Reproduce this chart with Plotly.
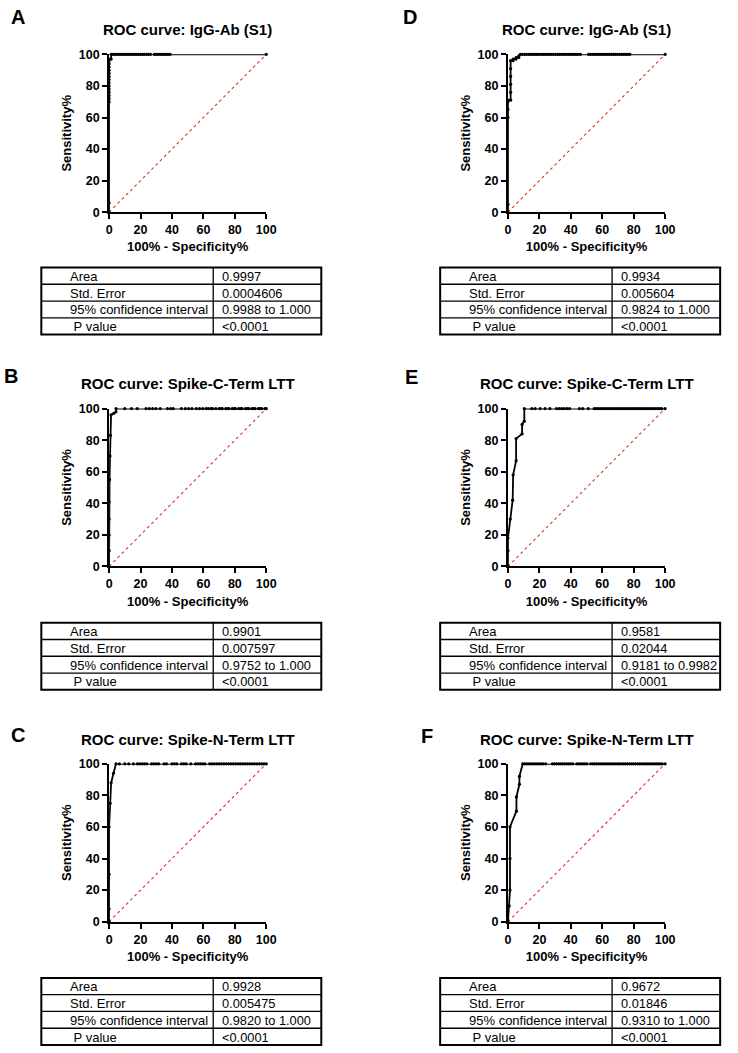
import plotly.graph_objects as go

W, H = 738, 1053
FONT = "Liberation Sans, Arial, sans-serif"

panel_letters = ["A", "B", "C", "D", "E", "F"]
panel_titles = [
    "ROC curve: IgG-Ab (S1)",
    "ROC curve: Spike-C-Term LTT",
    "ROC curve: Spike-N-Term LTT",
    "ROC curve: IgG-Ab (S1)",
    "ROC curve: Spike-C-Term LTT",
    "ROC curve: Spike-N-Term LTT",
]
x_title = "100% - Specificity%"
y_title = "Sensitivity%"
tick_values = [0, 20, 40, 60, 80, 100]
tick_labels = ["0", "20", "40", "60", "80", "100"]

# ---- ROC curve points (100% - specificity, sensitivity) ----
A_fpr = [0, 0, 0, 0, 0, 0, 0, 0, 0, 0, 0, 0, 0, 0, 0, 0, 0,
         1.3, 1.3, 2.5, 3.8, 5.0, 6.3, 7.5, 8.8, 10.0, 11.3, 12.5, 13.8, 15.0, 16.3, 17.5, 18.8,
         20.0, 21.3, 22.5, 23.8, 25.0, 26.3, 28.8, 30.0, 31.3, 32.5, 33.8, 35.0, 36.3, 37.5, 38.8, 100]
A_tpr = [0, 6, 70, 72, 74, 76, 78, 80, 82, 84, 86, 88, 90, 92, 94, 96, 97,
         97, 100, 100, 100, 100, 100, 100, 100, 100, 100, 100, 100, 100, 100, 100, 100,
         100, 100, 100, 100, 100, 100, 100, 100, 100, 100, 100, 100, 100, 100, 100, 100]

B_fpr = [0, 0, 0, 0, 0, 0.3, 0.6, 0.9, 1.25, 3.0, 4.4,
         4.4, 10.0, 14.2, 17.9, 23.5, 25.6, 27.7, 29.8, 32.5, 37.1, 39.2, 40.8, 46.0, 48.5, 50.6,
         52.7, 55.4, 57.5, 59.6, 61.7, 63.1, 64.8, 65.8, 67.9, 70.0, 71.3, 72.0, 74.2, 75.5, 76.2,
         78.3, 79.5, 80.4, 82.5, 83.8, 84.6, 86.7, 88.0, 88.8, 90.8, 92.0, 92.9, 95.0, 96.2, 97.1, 99.2, 100]
B_tpr = [0, 10, 20, 30, 41, 55, 70, 83, 96, 97, 98,
         100, 100, 100, 100, 100, 100, 100, 100, 100, 100, 100, 100, 100, 100, 100,
         100, 100, 100, 100, 100, 100, 100, 100, 100, 100, 100, 100, 100, 100, 100,
         100, 100, 100, 100, 100, 100, 100, 100, 100, 100, 100, 100, 100, 100, 100, 100, 100]

C_fpr = [0, 0, 0, 0, 0.7, 1.3, 2.8, 4.4,
         6.5, 10.0, 12.5, 15.5, 18.0, 19.5, 21.0, 22.5, 24.0, 27.0, 28.5, 30.0, 31.5, 35.0, 36.5,
         40.0, 41.5, 43.0, 46.0, 47.5, 49.0, 52.0, 55.0, 56.5, 58.0, 59.5, 61.0, 64.0, 65.5, 67.0,
         68.5, 70.0, 71.5, 73.0, 74.5, 76.0, 77.5, 79.0, 80.5, 82.0, 83.5, 85.0, 86.5, 88.0, 89.5,
         91.0, 92.5, 94.0, 95.5, 97.0, 98.5, 100]
C_tpr = [0, 8, 30, 60, 75, 88, 94, 100,
         100, 100, 100, 100, 100, 100, 100, 100, 100, 100, 100, 100, 100, 100, 100,
         100, 100, 100, 100, 100, 100, 100, 100, 100, 100, 100, 100, 100, 100, 100,
         100, 100, 100, 100, 100, 100, 100, 100, 100, 100, 100, 100, 100, 100, 100,
         100, 100, 100, 100, 100, 100, 100]

D_fpr = [0, 0, 0, 0, 0, 0, 1.7, 1.7, 1.7, 1.7, 1.7, 1.7, 3.3, 3.3, 5.2, 5.2, 6.9, 6.9,
         7.9, 9.2, 10.5, 11.8, 13.2, 14.5, 15.8, 17.1, 18.4, 19.7, 21.1, 22.4, 23.7, 25.0, 26.3,
         27.6, 28.9, 30.3, 31.6, 32.9, 34.2, 35.5, 36.8, 38.2, 39.5, 40.8, 42.1, 43.4, 44.7, 46.1,
         51.3, 52.6, 53.9, 55.3, 56.6, 57.9, 59.2, 60.5, 61.8, 63.2, 64.5, 65.8, 67.1, 68.4, 69.7,
         71.1, 72.4, 73.7, 75.0, 76.3, 77.6, 100]
D_tpr = [0, 5, 60, 65, 70, 71, 71, 76, 81, 86, 91, 96, 96, 97, 97, 98, 98, 99,
         100, 100, 100, 100, 100, 100, 100, 100, 100, 100, 100, 100, 100, 100, 100,
         100, 100, 100, 100, 100, 100, 100, 100, 100, 100, 100, 100, 100, 100, 100,
         100, 100, 100, 100, 100, 100, 100, 100, 100, 100, 100, 100, 100, 100, 100,
         100, 100, 100, 100, 100, 100, 100]

E_fpr = [0, 0, 0, 1.5, 3.0, 3.3, 5.2, 5.2, 9.0, 9.0, 10.4,
         10.4, 15.2, 17.3, 20.5, 23.6, 26.7, 30.9, 32.6, 34.2, 35.9, 37.6, 39.2, 45.5, 47.6, 51.1,
         54.9, 56.2, 57.5, 58.8, 60.1, 61.4, 62.7, 64.0, 65.3, 66.6, 67.9, 69.2, 70.5, 71.8, 73.1,
         74.4, 75.7, 77.0, 78.3, 79.6, 80.9, 82.2, 83.5, 84.8, 86.1, 87.4, 88.7, 90.0, 91.3, 92.6,
         93.9, 95.2, 96.5, 97.8, 100]
E_tpr = [0, 10, 18, 30, 42, 58, 67, 81, 84, 90, 92,
         100, 100, 100, 100, 100, 100, 100, 100, 100, 100, 100, 100, 100, 100, 100,
         100, 100, 100, 100, 100, 100, 100, 100, 100, 100, 100, 100, 100, 100, 100,
         100, 100, 100, 100, 100, 100, 100, 100, 100, 100, 100, 100, 100, 100, 100,
         100, 100, 100, 100, 100]

F_fpr = [0, 0.8, 1.3, 1.3, 1.3, 5.4, 5.4, 7.3, 7.3, 9.4,
         10.7, 12.0, 13.3, 14.6, 15.9, 17.2, 18.5, 19.8, 21.1, 22.4, 24.0, 28.3, 29.6, 30.9, 32.2,
         33.5, 34.8, 36.1, 37.4, 38.7, 40.0, 41.3, 43.8, 45.1, 46.4, 47.7, 49.0, 50.3, 52.6, 53.9,
         55.2, 56.5, 57.8, 59.1, 60.4, 61.7, 63.0, 64.3, 65.6, 66.9, 68.2, 69.5, 70.8, 72.1, 73.4,
         74.7, 76.0, 77.3, 78.6, 79.9, 81.2, 82.5, 83.8, 85.1, 86.4, 87.7, 89.0, 90.3, 91.6, 92.9,
         94.2, 95.5, 96.8, 98.1, 100]
F_tpr = [0, 10, 20, 40, 60, 70, 79, 87, 92, 100,
         100, 100, 100, 100, 100, 100, 100, 100, 100, 100, 100, 100, 100, 100, 100,
         100, 100, 100, 100, 100, 100, 100, 100, 100, 100, 100, 100, 100, 100, 100,
         100, 100, 100, 100, 100, 100, 100, 100, 100, 100, 100, 100, 100, 100, 100,
         100, 100, 100, 100, 100, 100, 100, 100, 100, 100, 100, 100, 100, 100, 100,
         100, 100, 100, 100, 100]

chance_x = [0, 100]
chance_y = [0, 100]

# ---- table contents ----
table_labels = ["Area", "Std. Error", "95% confidence interval", " P value"]
A_stats = ["0.9997", "0.0004606", "0.9988 to 1.000", "<0.0001"]
B_stats = ["0.9901", "0.007597", "0.9752 to 1.000", "<0.0001"]
C_stats = ["0.9928", "0.005475", "0.9820 to 1.000", "<0.0001"]
D_stats = ["0.9934", "0.005604", "0.9824 to 1.000", "<0.0001"]
E_stats = ["0.9581", "0.02044", "0.9181 to 0.9982", "<0.0001"]
F_stats = ["0.9672", "0.01846", "0.9310 to 1.000", "<0.0001"]

curves = [(A_fpr, A_tpr), (B_fpr, B_tpr), (C_fpr, C_tpr),
          (D_fpr, D_tpr), (E_fpr, E_tpr), (F_fpr, F_tpr)]
stats = [A_stats, B_stats, C_stats, D_stats, E_stats, F_stats]

# ---- layout geometry (pixels) ----
plot_left = [108, 108, 108, 514, 514, 514]
plot_top = [48, 407, 767, 48, 407, 767]
PS = 160
table_left = [39, 39, 39, 445, 445, 445]
table_top = [264, 624, 984, 264, 624, 984]
TW, TDIV, ROWH = 285, 175, 17
label_pos = [(15, 10), (8, 374), (15, 738), (414, 10), (416, 375), (432, 739)]


def px(x):
    return x / W


def py(y):
    return 1 - y / H


fig = go.Figure()
layout = dict(width=W, height=H, margin=dict(l=0, r=0, t=0, b=0),
              paper_bgcolor="white", plot_bgcolor="white", showlegend=False,
              font=dict(family=FONT, color="black"))
annotations = []
shapes = []
bold_ticks = ["<b>" + t + "</b>" for t in tick_labels]

for i in range(6):
    n = "" if i == 0 else str(i + 1)
    xa, ya = "x" + n, "y" + n
    fpr, tpr = curves[i]
    fig.add_trace(go.Scatter(x=chance_x, y=chance_y, xaxis=xa, yaxis=ya, mode="lines",
                             line=dict(color="#d8332c", width=1.1, dash="dot"),
                             cliponaxis=False, hoverinfo="skip"))
    fig.add_trace(go.Scatter(x=fpr, y=tpr, xaxis=xa, yaxis=ya, mode="lines+markers",
                             line=dict(color="black", width=1.8),
                             marker=dict(color="black", size=3.2, symbol="circle"),
                             cliponaxis=False))
    L, T = plot_left[i], plot_top[i]
    axis_common = dict(range=[0, 100], tickmode="array", tickvals=tick_values, ticktext=bold_ticks,
                       showgrid=False, zeroline=False,
                       showline=True, linecolor="black", linewidth=2,
                       ticks="outside", ticklen=5, tickwidth=2, tickcolor="black",
                       tickfont=dict(family=FONT, size=12.5, color="black"))
    layout["xaxis" + n] = dict(axis_common, domain=[px(L), px(L + PS)], anchor=ya,
                               title=dict(text="<b>" + x_title + "</b>", standoff=6,
                                          font=dict(family=FONT, size=13)))
    layout["yaxis" + n] = dict(axis_common, domain=[py(T + PS), py(T)], anchor=xa,
                               title=dict(text="<b>" + y_title + "</b>", standoff=4,
                                          font=dict(family=FONT, size=13)))
    # title
    annotations.append(dict(text="<b>" + panel_titles[i] + "</b>", x=px(L + PS / 2), y=py(T - 25),
                            xref="paper", yref="paper", showarrow=False,
                            xanchor="center", yanchor="middle",
                            font=dict(family=FONT, size=15)))
    # panel letter
    lx, ly = label_pos[i]
    annotations.append(dict(text="<b>" + panel_letters[i] + "</b>", x=px(lx), y=py(ly),
                            xref="paper", yref="paper", showarrow=False,
                            xanchor="center", yanchor="middle",
                            font=dict(family=FONT, size=20)))
    # table
    tl, tt = table_left[i], table_top[i]
    shapes.append(dict(type="rect", xref="paper", yref="paper",
                       x0=px(tl), x1=px(tl + TW), y0=py(tt + 4 * ROWH), y1=py(tt),
                       line=dict(color="black", width=2)))
    shapes.append(dict(type="line", xref="paper", yref="paper",
                       x0=px(tl + TDIV), x1=px(tl + TDIV), y0=py(tt + 4 * ROWH), y1=py(tt),
                       line=dict(color="black", width=1.3)))
    for r in range(1, 4):
        shapes.append(dict(type="line", xref="paper", yref="paper",
                           x0=px(tl), x1=px(tl + TW), y0=py(tt + r * ROWH), y1=py(tt + r * ROWH),
                           line=dict(color="black", width=1.3)))
    for r in range(4):
        yc = py(tt + r * ROWH + ROWH / 2 + 0.5)
        label = table_labels[r]
        if label.startswith(" "):
            label = "&nbsp;" + label[1:]
        annotations.append(dict(text=label,
                                x=px(tl + 27), y=yc, xref="paper", yref="paper",
                                showarrow=False, xanchor="left", yanchor="middle",
                                font=dict(family=FONT, size=13)))
        annotations.append(dict(text=stats[i][r], x=px(tl + TDIV + 7), y=yc,
                                xref="paper", yref="paper", showarrow=False,
                                xanchor="left", yanchor="middle",
                                font=dict(family=FONT, size=12.8)))

layout["annotations"] = annotations
layout["shapes"] = shapes
fig.update_layout(**layout)
fig.write_html("out.html", config={"displayModeBar": False},
               post_script="document.body.style.margin='0';document.body.style.overflow='hidden';")
